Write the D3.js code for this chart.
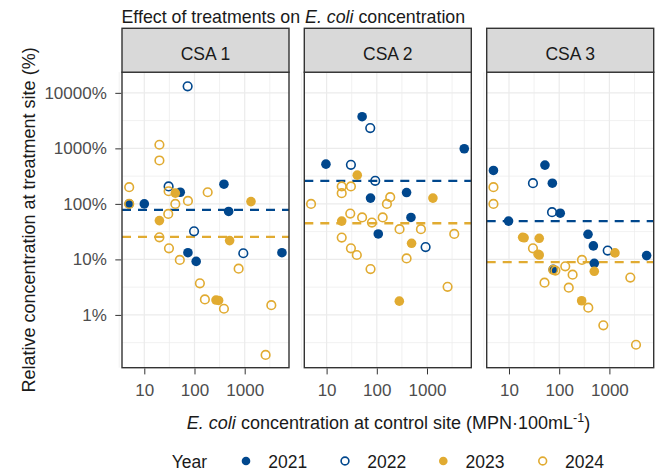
<!DOCTYPE html>
<html>
<head>
<meta charset="utf-8">
<script src="https://cdn.jsdelivr.net/npm/d3@7"></script>
<style>
  body { margin: 0; background: #fff; }
  text { font-family: 'Liberation Sans', Arial, sans-serif; }
</style>
</head>
<body>
<div id="chart"></div>
<script>
// data: [control E. coli (MPN/100mL), relative concentration (%)]
const panels = ['CSA 1', 'CSA 2', 'CSA 3']
const years = ['2021', '2022', '2023', '2024']

const csa1_2021 = [[5, 100], [10, 100], [52, 162], [386, 226], [479, 73], [74, 13.2], [108, 9.2], [5520, 13.2]]
const csa1_2022 = [[73, 13100], [30.5, 206], [98, 32], [938, 12.9]]
const csa1_2023 = [[20, 50], [41.5, 156], [501, 21.8], [1334, 110], [268, 1.85], [302, 1.82]]
const csa1_2024 = [[5, 200], [5, 100], [20, 1162], [20, 605], [20, 25], [30.5, 169], [30, 66], [41.5, 100],
  [31, 15.8], [51, 9.8], [74, 113], [183, 162], [128, 3.7], [161, 1.9], [386, 1.29], [757, 6.8], [3390, 1.5], [2610, 0.19]]

const csa2_2021 = [[9.7, 520], [51, 3716], [75, 127], [107, 28.7], [392, 160], [479, 57], [5520, 984]]
const csa2_2022 = [[30.5, 506], [74, 2322], [93, 260], [938, 16.7]]
const csa2_2023 = [[40.8, 329], [20, 49], [493, 19.5], [1312, 127], [281, 1.77]]
const csa2_2024 = [[4.9, 100], [20, 206], [20, 156], [30.5, 206], [29.6, 67], [20, 24.7], [30.5, 15.8], [40, 12],
  [51, 57], [80, 46], [75, 6.7], [131, 57], [159, 100], [185, 132], [284, 35], [392, 10.4], [757, 35], [3490, 28.7], [2570, 3.2]]

const csa3_2021 = [[4.9, 400], [52, 499], [73, 236], [9.8, 49], [105, 68], [375, 28.3], [479, 17.5], [500, 8.5], [76, 6.6], [5520, 11.7]]
const csa3_2022 = [[30, 236], [72, 71], [925, 14.4]]
const csa3_2023 = [[18.7, 25], [20, 24.5], [40, 24], [40, 12], [38, 12.4], [500, 6.1], [1290, 13.1], [280, 1.8]]
const csa3_2024 = [[4.9, 200], [4.9, 100], [30, 15.8], [51, 3.8], [76, 6.5], [84, 6.3], [132, 7.5], [185, 5.3],
  [284, 9.8], [155, 3.1], [380, 1.35], [757, 0.65], [2610, 4.7], [3390, 0.29]]

// mean lines per panel (%): 2021-2022 (blue) and 2023-2024 (gold)
const meanBlue = [78, 260, 49]
const meanGold = [25.4, 44.8, 8.9]

const yTicks = [1, 10, 100, 1000, 10000]
const xTicks = [10, 100, 1000]

const blue = '#00478D'
const gold = '#E1AB31'
const yearStyle = {
  '2021': { color: blue, filled: true },
  '2022': { color: blue, filled: false },
  '2023': { color: gold, filled: true },
  '2024': { color: gold, filled: false }
}

const seriesByPanel = [
  { '2021': csa1_2021, '2022': csa1_2022, '2023': csa1_2023, '2024': csa1_2024 },
  { '2021': csa2_2021, '2022': csa2_2022, '2023': csa2_2023, '2024': csa2_2024 },
  { '2021': csa3_2021, '2022': csa3_2022, '2023': csa3_2023, '2024': csa3_2024 }
]

const W = 664
const H = 474
const panelW = 167
const panelLefts = [122, 304.3, 486.7]
const stripTop = 28.3
const plotTop = 72.2
const plotBottom = 367.7
const font = "'Liberation Sans', Arial, sans-serif"

const svg = d3.select('#chart').append('svg').attr('width', W).attr('height', H)

const x = d3.scaleLog().domain([Math.pow(10, 0.5558), Math.pow(10, 3.8825)]).range([0, panelW])
const y = d3.scaleLog().domain([Math.pow(10, -0.951), Math.pow(10, 4.372)]).range([plotBottom, plotTop])

const xMinor = [0.5, 1.5, 2.5, 3.5].map(d => Math.pow(10, d))
const yMinor = [-0.5, 0.5, 1.5, 2.5, 3.5].map(d => Math.pow(10, d))

// title
const title = svg.append('text').attr('x', 121.5).attr('y', 23.3).attr('font-size', '17.8px').attr('fill', '#1a1a1a')
title.append('tspan').text('Effect of treatments on ')
title.append('tspan').attr('font-style', 'italic').text('E. coli')
title.append('tspan').text(' concentration')

panels.forEach((name, i) => {
  const g = svg.append('g').attr('transform', 'translate(' + panelLefts[i] + ',0)')

  // grid
  g.selectAll('.xminor').data(xMinor).enter().append('line')
    .attr('x1', d => x(d)).attr('x2', d => x(d)).attr('y1', plotTop).attr('y2', plotBottom)
    .attr('stroke', '#EBEBEB').attr('stroke-width', 0.7)
  g.selectAll('.yminor').data(yMinor).enter().append('line')
    .attr('x1', 0).attr('x2', panelW).attr('y1', d => y(d)).attr('y2', d => y(d))
    .attr('stroke', '#EBEBEB').attr('stroke-width', 0.7)
  g.selectAll('.xmajor').data(xTicks).enter().append('line')
    .attr('x1', d => x(d)).attr('x2', d => x(d)).attr('y1', plotTop).attr('y2', plotBottom)
    .attr('stroke', '#EBEBEB').attr('stroke-width', 1.2)
  g.selectAll('.ymajor').data(yTicks).enter().append('line')
    .attr('x1', 0).attr('x2', panelW).attr('y1', d => y(d)).attr('y2', d => y(d))
    .attr('stroke', '#EBEBEB').attr('stroke-width', 1.2)

  // mean lines
  g.append('line').attr('x1', 0).attr('x2', panelW)
    .attr('y1', y(meanBlue[i])).attr('y2', y(meanBlue[i]))
    .attr('stroke', blue).attr('stroke-width', 2.3).attr('stroke-dasharray', '9,7')
  g.append('line').attr('x1', 0).attr('x2', panelW)
    .attr('y1', y(meanGold[i])).attr('y2', y(meanGold[i]))
    .attr('stroke', gold).attr('stroke-width', 2.3).attr('stroke-dasharray', '9,7')

  // points
  years.forEach(yr => {
    const st = yearStyle[yr]
    g.selectAll('.p' + yr).data(seriesByPanel[i][yr]).enter().append('circle')
      .attr('cx', d => x(d[0]))
      .attr('cy', d => y(d[1]))
      .attr('r', st.filled ? 4.8 : 4.3)
      .attr('fill', st.filled ? st.color : 'none')
      .attr('stroke', st.filled ? 'none' : st.color)
      .attr('stroke-width', 1.6)
  })

  // panel border
  g.append('rect').attr('x', 0).attr('y', plotTop).attr('width', panelW).attr('height', plotBottom - plotTop)
    .attr('fill', 'none').attr('stroke', '#333').attr('stroke-width', 1.4)

  // strip
  g.append('rect').attr('x', 0).attr('y', stripTop).attr('width', panelW).attr('height', plotTop - stripTop)
    .attr('fill', '#D9D9D9').attr('stroke', '#333').attr('stroke-width', 1.4)
  g.append('text').attr('x', panelW / 2).attr('y', 59.5)
    .attr('text-anchor', 'middle').attr('font-size', '17.5px').attr('fill', '#1a1a1a')
    .text(name)

  // x axis
  const xAxis = d3.axisBottom(x).tickValues(xTicks).tickFormat(d3.format('d')).tickSize(6).tickPadding(9.5)
  const xa = g.append('g').attr('transform', 'translate(0,' + (plotBottom + 0.7) + ')').call(xAxis)
  xa.select('.domain').remove()
  xa.selectAll('line').attr('stroke', '#333').attr('stroke-width', 1)
  xa.selectAll('text').attr('font-size', '17px').attr('fill', '#4D4D4D').attr('font-family', font)

  if (i === 0) {
    const yAxis = d3.axisLeft(y).tickValues(yTicks).tickFormat(d => d + '%').tickSize(6).tickPadding(8.5)
    const ya = g.append('g').attr('transform', 'translate(-0.7,0)').call(yAxis)
    ya.select('.domain').remove()
    ya.selectAll('line').attr('stroke', '#333').attr('stroke-width', 1)
    ya.selectAll('text').attr('font-size', '17px').attr('fill', '#4D4D4D').attr('font-family', font)
  }
})

// axis titles
const xTitle = svg.append('text').attr('x', 388.5).attr('y', 429).attr('text-anchor', 'middle')
  .attr('font-size', '18px').attr('fill', '#1a1a1a')
xTitle.append('tspan').attr('font-style', 'italic').text('E. coli')
xTitle.append('tspan').text(' concentration at control site (MPN\u00B7100mL')
xTitle.append('tspan').attr('font-size', '12.5px').attr('dy', -7).text('-1')
xTitle.append('tspan').attr('dy', 7).text(')')

svg.append('text')
  .attr('transform', 'translate(34.7,' + ((plotTop + plotBottom) / 2) + ') rotate(-90)')
  .attr('text-anchor', 'middle').attr('font-size', '18px').attr('fill', '#1a1a1a')
  .text('Relative concentration at treatment site (%)')

// legend
const legend = svg.append('g').attr('transform', 'translate(0,461)')
legend.append('text').attr('x', 171.7).attr('y', 7.3).attr('font-size', '17.5px').attr('fill', '#1a1a1a').text('Year')
const legendX = [246, 345, 443.3, 542.7]
years.forEach((yr, k) => {
  const st = yearStyle[yr]
  legend.append('circle').attr('cx', legendX[k]).attr('cy', 0)
    .attr('r', st.filled ? 4.3 : 3.9)
    .attr('fill', st.filled ? st.color : 'none')
    .attr('stroke', st.filled ? 'none' : st.color)
    .attr('stroke-width', 1.6)
  legend.append('text').attr('x', legendX[k] + 22.3).attr('y', 7.3)
    .attr('font-size', '17.5px').attr('fill', '#1a1a1a').text(yr)
})
</script>
</body>
</html>
